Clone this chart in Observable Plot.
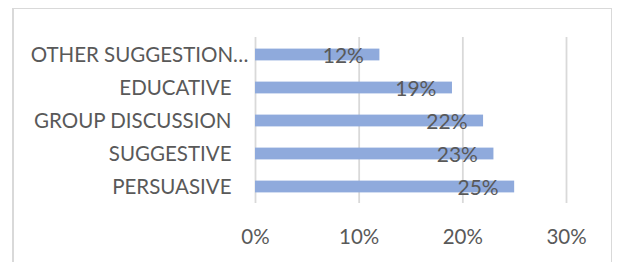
<!DOCTYPE html>
<html>
<head>
<meta charset="utf-8">
<script src="https://cdn.jsdelivr.net/npm/d3@7"></script>
<script src="https://cdn.jsdelivr.net/npm/@observablehq/plot@0.6"></script>
<style>
  html, body { margin: 0; padding: 0; background: #fff; overflow: hidden; }
  #frame { position: absolute; left: 12px; top: 8px; width: 600px; height: 270px; border: 1px solid #d9d9d9; border-left-width: 2px; box-sizing: border-box; }
  #chart { position: absolute; left: 0; top: 0; }
</style>
</head>
<body>
<div id="frame"></div>
<div id="chart"></div>
<script>
const categories = ["OTHER SUGGESTION…", "EDUCATIVE", "GROUP DISCUSSION", "SUGGESTIVE", "PERSUASIVE"];
const values = [0.12, 0.19, 0.22, 0.23, 0.25];
const xTicks = [0, 0.1, 0.2, 0.3];

const data = categories.map((c, i) => ({category: c, value: values[i]}));
const textColor = "#595959";
const gridColor = "#d9d9d9";
const barColor = "#8faadc";

const chart = Plot.plot({
  width: 617,
  height: 262,
  marginLeft: 255,
  marginRight: 51,
  marginTop: 37,
  marginBottom: 59,
  style: {fontFamily: "Lato, sans-serif", fontSize: "20px", color: textColor, background: "transparent"},
  x: {domain: [0, 0.3], ticks: xTicks, tickFormat: d3.format(".0%")},
  y: {domain: categories, padding: 0},
  marks: [
    Plot.ruleX(xTicks, {stroke: gridColor, strokeWidth: 1.8}),
    Plot.barX(data, {x: "value", y: "category", fill: barColor, insetTop: 10.6, insetBottom: 10.6}),
    Plot.text(data, {x: "value", y: "category", text: d => d3.format(".0%")(d.value), textAnchor: "end", dx: -16, dy: 1.5, fill: textColor, fontSize: 21}),
    Plot.axisX({ticks: xTicks, tickFormat: d3.format(".0%"), tickSize: 0, tickPadding: 26, fill: textColor, fontSize: 20.5, label: null}),
    Plot.axisY({ticks: categories.slice(1), tickSize: 0, tickPadding: 24, fill: textColor, fontSize: 20.5, label: null}),
    Plot.axisY({ticks: categories.slice(0, 1), tickSize: 0, tickPadding: 7, fill: textColor, fontSize: 20.5, label: null})
  ]
});
document.getElementById("chart").appendChild(chart);
</script>
</body>
</html>
